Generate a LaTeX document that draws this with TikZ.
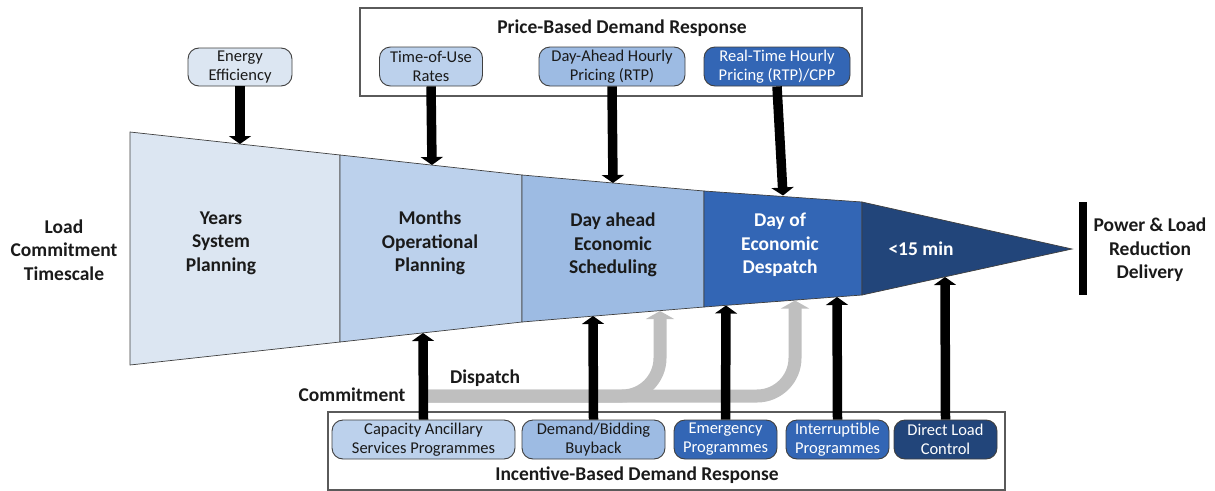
\documentclass[tikz,border=0pt]{standalone}
\usepackage{fontspec}
\setmainfont{Carlito}
\usetikzlibrary{arrows.meta}
\definecolor{cA}{HTML}{DCE6F2}
\definecolor{cB}{HTML}{BCD1EC}
\definecolor{cC}{HTML}{9DBBE3}
\definecolor{cD}{HTML}{3366B5}
\definecolor{cE}{HTML}{22457A}
\definecolor{edge}{HTML}{3F3F3F}
\definecolor{frame}{HTML}{5A5A5A}
\definecolor{grayband}{HTML}{BFBFBF}
\definecolor{txt}{HTML}{1A1A1A}
\begin{document}
\begin{tikzpicture}[x=1pt,y=-1pt,
  seg/.style={draw=edge,line width=0.7pt},
  big/.style={font=\fontsize{19.5}{23.5}\selectfont\bfseries,align=center,text=txt},
  bigw/.style={big,text=white},
  pill/.style={draw=edge,line width=0.9pt,rounded corners=11pt,align=center,inner sep=0pt,
    font=\fontsize{16.5}{19}\selectfont,text=txt},
  pillw/.style={pill,text=white},
  blk/.style={line width=9.5pt,-{Triangle[width=22pt,length=8pt]}},
  gry/.style={draw=grayband,line width=13pt,rounded corners=38pt,-{Triangle[width=28pt,length=8pt]}},
  frm/.style={draw=frame,line width=1.1pt}]
\useasboundingbox (0,0) rectangle (1215,490);
% funnel
\path[seg,fill=cA] (130,132) -- (340,155) -- (340,342) -- (130,365) -- cycle;
\path[seg,fill=cB] (340,155) -- (522,175) -- (522,322) -- (340,342) -- cycle;
\path[seg,fill=cC] (522,175) -- (704,191) -- (704,307) -- (522,322) -- cycle;
\path[seg,fill=cD] (704,191) -- (862,202) -- (862,295) -- (704,307) -- cycle;
\path[seg,fill=cE] (862,202) -- (1072,249) -- (862,295) -- cycle;
% section labels
\node[big] (years) at (221,243) {Years\\System\\Planning};
\node[big] (months) at (430,243) {Months\\Operational\\Planning};
\node[big] (dayahead) at (613,245) {Day ahead\\Economic\\Scheduling};
\node[bigw] (dayof) at (780,245) {Day of\\Economic\\Despatch};
\node[bigw] (min15) at (921,249) {<15 min};
\node[big] (lct) at (64,250) {Load\\Commitment\\Timescale};
\node[big] (plrd) at (1150,250) {Power \& Load\\Reduction\\Delivery};
\node[fill=black,minimum width=8pt,minimum height=93pt,inner sep=0pt] (bar) at (1083,248.5) {};
% frames
\node[frm,minimum width=502pt,minimum height=88pt,inner sep=0pt] (pframe) at (611,52) {};
\node[big] (ptitle) at (622,28) {Price-Based Demand Response};
\node[frm,minimum width=677pt,minimum height=78pt,inner sep=0pt] (iframe) at (666.5,451) {};
\node[big] (ititle) at (637,475) {Incentive-Based Demand Response};
% coordinates on funnel edges
\coordinate (ee-tip) at (240,144);
\coordinate (tou-tip) at (432,165);
\coordinate (dah-tip) at (613,183);
\coordinate (rt-tip) at (783,195.5);
\coordinate (cap-tip) at (423,333);
\coordinate (dem-tip) at (593,316);
\coordinate (g1-tip) at (660,311);
\coordinate (em-tip) at (726,305.5);
\coordinate (g2-tip) at (795,300.5);
\coordinate (int-tip) at (837,297);
\coordinate (dlc-tip) at (945,277);
\coordinate (bandstart) at (423,396);
% top boxes
\node[pill,fill=cA,minimum width=104pt,minimum height=38pt] (ee) at (240,67) {Energy\\Efficiency};
\node[pill,fill=cB,minimum width=103pt,minimum height=39pt] (tou) at (431,66.5) {Time-of-Use\\Rates};
\node[pill,fill=cC,minimum width=146pt,minimum height=39pt] (dah) at (612,66.5) {Day-Ahead Hourly\\Pricing (RTP)};
\node[pillw,fill=cD,minimum width=146pt,minimum height=39pt] (rt) at (777,66.5) {Real-Time Hourly\\Pricing (RTP)/CPP};
% bottom boxes
\node[pill,fill=cB,minimum width=183pt,minimum height=39pt] (cap) at (423.5,439.5) {Capacity Ancillary\\Services Programmes};
\node[pill,fill=cC,minimum width=143pt,minimum height=39pt] (dem) at (593.5,439.5) {Demand/Bidding\\Buyback};
\node[pillw,fill=cD,minimum width=103pt,minimum height=39pt] (em) at (725.5,439.5) {Emergency\\Programmes};
\node[pillw,fill=cD,minimum width=103pt,minimum height=39pt] (int) at (837.5,439.5) {Interruptible\\Programmes};
\node[pillw,fill=cE,minimum width=103pt,minimum height=39pt] (dlc) at (945.5,439.5) {Direct Load\\Control};
% gray commitment/dispatch arrows
\draw[gry] (bandstart) -| (g1-tip);
\draw[gry] (bandstart) -| (g2-tip);
\node[big] (commit) at (352,395) {Commitment};
\node[big] (disp) at (485,378) {Dispatch};
% black arrows
\draw[blk] (ee.south) -- (ee-tip);
\draw[blk] (tou.south) -- (tou-tip);
\draw[blk] (dah.south) -- (dah-tip);
\draw[blk] (rt.south) -- (rt-tip);
\draw[blk] (cap.north) -- (cap-tip);
\draw[blk] (dem.north) -- (dem-tip);
\draw[blk] (em.north) -- (em-tip);
\draw[blk] (int.north) -- (int-tip);
\draw[blk] (dlc.north) -- (dlc-tip);
\end{tikzpicture}
\end{document}
